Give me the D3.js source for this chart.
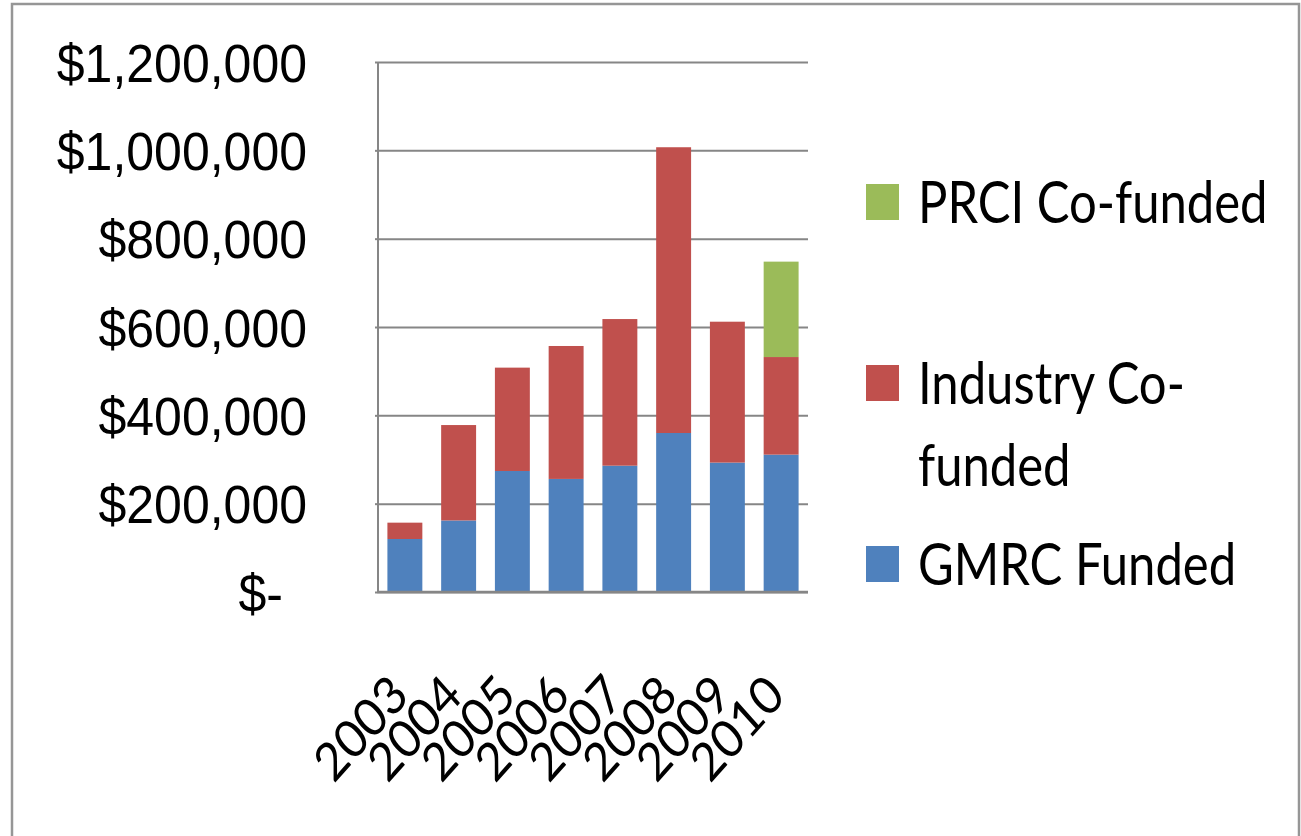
<!DOCTYPE html>
<html>
<head>
<meta charset="utf-8">
<script src="https://cdn.jsdelivr.net/npm/d3@7"></script>
<style>
  body { margin: 0; background: #fff; }
  svg { display: block; font-family: Lato, "Open Sans", sans-serif; }
</style>
</head>
<body>
<svg id="chart" width="1301" height="836"></svg>
<script>
var years = ["2003", "2004", "2005", "2006", "2007", "2008", "2009", "2010"];
var gmrc = [120000, 162000, 274000, 256000, 286000, 360000, 293000, 311000];
var industry = [37000, 216000, 234000, 301000, 332000, 647000, 319000, 221000];
var prci = [0, 0, 0, 0, 0, 0, 0, 216000];
var yTicks = [0, 200000, 400000, 600000, 800000, 1000000, 1200000];
var seriesNames = ["GMRC Funded", "Industry Co-funded", "PRCI Co-funded"];
var legendLines = [["PRCI Co-funded"], ["Industry Co-", "funded"], ["GMRC Funded"]];
var colors = ["#4F81BD", "#C0504D", "#9BBB59"];

var svg = d3.select("#chart");

// outer frame
svg.append("rect")
    .attr("x", 12).attr("y", 4)
    .attr("width", 1287).attr("height", 900)
    .attr("fill", "none")
    .attr("stroke", "#969696")
    .attr("stroke-width", 2.5);

var plot = {left: 378, right: 808, top: 62, bottom: 592};

var yScale = d3.scaleLinear()
    .domain([0, 1200000])
    .range([plot.bottom, plot.top]);
var xScale = d3.scaleBand()
    .domain(years)
    .range([plot.left, plot.right])
    .paddingInner(0.35)
    .paddingOuter(0.175);

// gridlines
svg.append("g")
    .attr("transform", "translate(" + plot.left + ",0)")
    .call(d3.axisLeft(yScale).tickValues(yTicks).tickSize(-(plot.right - plot.left)).tickFormat(""))
    .call(g => g.select(".domain").remove())
    .selectAll("line")
    .attr("stroke", "#868686")
    .attr("stroke-width", 2);

// stacked bars
var rows = years.map((y, i) => ({year: y, gmrc: gmrc[i], industry: industry[i], prci: prci[i]}));
var stack = d3.stack().keys(["gmrc", "industry", "prci"])(rows);

svg.append("g").selectAll("g").data(stack).enter()
    .append("g")
    .attr("fill", (d, i) => colors[i])
    .selectAll("rect").data(d => d).enter()
    .append("rect")
    .attr("x", d => xScale(d.data.year))
    .attr("width", xScale.bandwidth())
    .attr("y", d => yScale(d[1]))
    .attr("height", d => yScale(d[0]) - yScale(d[1]));

// y axis
var fmt = d3.format(",");
var yAxis = svg.append("g")
    .attr("transform", "translate(" + plot.left + ",0)")
    .call(d3.axisLeft(yScale).tickValues(yTicks).tickSize(3)
        .tickFormat(v => v === 0 ? "$-" : "$" + fmt(v)));
yAxis.select(".domain")
    .attr("stroke", "#868686")
    .attr("stroke-width", 2)
    .attr("d", "M0," + plot.top + "V" + (plot.bottom + 1));
yAxis.selectAll(".tick line").attr("stroke", "#868686").attr("stroke-width", 2);
yAxis.selectAll("text")
    .attr("font-size", 50)
    .attr("fill", "#000")
    .attr("x", v => v === 0 ? -95 : -71)
    .attr("dy", "0.36em")
    .attr("transform", "scale(1,1.07)")
    .attr("y", 0);

// x axis line
svg.append("line")
    .attr("x1", plot.left - 1).attr("x2", plot.right)
    .attr("y1", plot.bottom).attr("y2", plot.bottom)
    .attr("stroke", "#868686")
    .attr("stroke-width", 2.5);

// rotated year labels
svg.append("g").selectAll("text").data(years).enter()
    .append("text")
    .attr("transform", d => "translate(" + (xScale(d) + xScale.bandwidth() / 2 + 6) + ",698) scale(1,1.12) rotate(-45)")
    .attr("text-anchor", "end")
    .attr("font-size", 47)
    .attr("fill", "#000")
    .text(d => d);

// legend
var legend = svg.append("g").selectAll("g").data(legendLines).enter()
    .append("g")
    .attr("transform", (d, i) => "translate(866," + (202 + i * 181) + ")");
legend.append("rect")
    .attr("x", 0).attr("y", -18)
    .attr("width", 33).attr("height", 36)
    .attr("fill", (d, i) => colors[2 - i]);
legend.each(function(lines) {
    var g = d3.select(this);
    lines.forEach((t, k) => {
        g.append("text")
            .attr("transform", "translate(52," + (k * 82) + ") scale(1,1.19)")
            .attr("dy", "0.36em")
            .attr("font-size", 49)
            .attr("fill", "#000")
            .text(t);
    });
});
</script>
</body>
</html>
